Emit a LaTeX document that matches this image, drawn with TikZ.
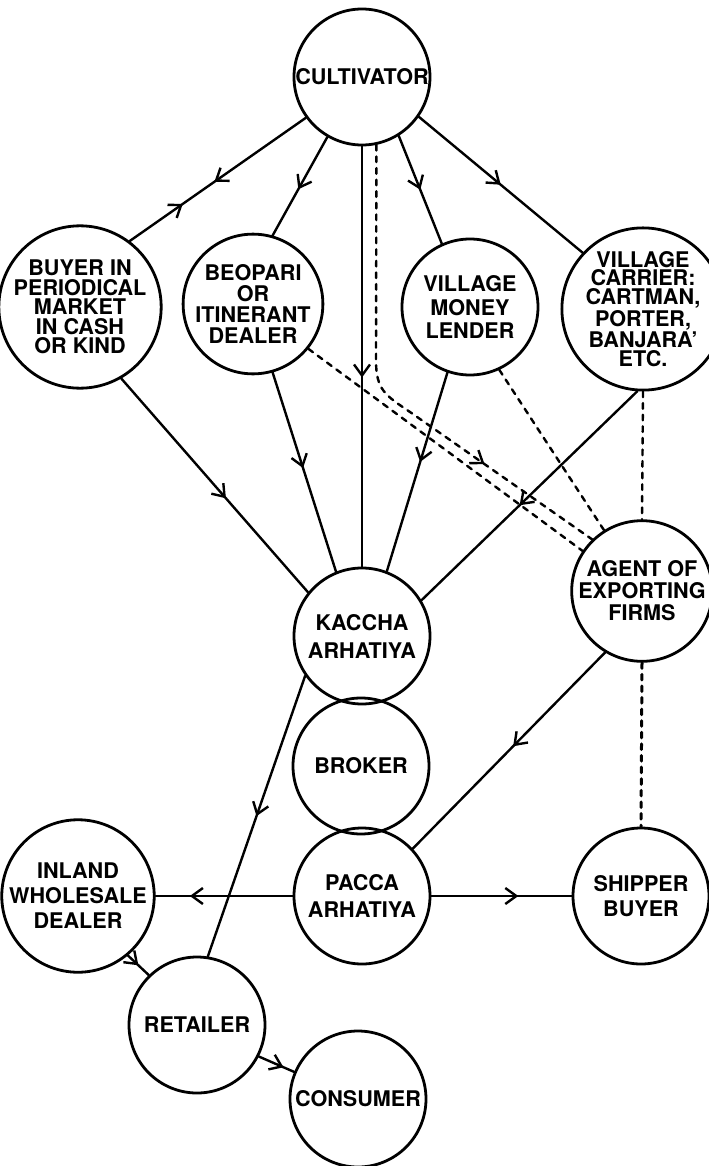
\documentclass[tikz,border=0pt]{standalone}
\usepackage{fontspec}
\setmainfont{TeX Gyre Heros}
\usetikzlibrary{arrows.meta,decorations.markings}
\tikzset{
  stn/.style={circle,draw,line width=1.4pt,minimum size=68pt,inner sep=0pt,align=center,
    font=\bfseries\fontsize{10.8}{#1}\selectfont},
  stn/.default=12pt,
  flow/.style={line width=1.2pt},
  trade/.style={line width=1.2pt,dash pattern=on 2.8pt off 3pt},
  midarr/.style={postaction={decorate},
    decoration={markings,mark=at position #1 with {\arrow{>}}}},
  twoway/.style={postaction={decorate},
    decoration={markings,mark=at position 0.52 with {\arrow{>}},
      mark=at position 0.70 with {\arrowreversed{>}}}},
}
\begin{document}
\begin{tikzpicture}[x=0.5pt,y=-0.5pt,>={Straight Barb[length=5.5pt,width=8pt]},
  line join=round,line cap=round]
\useasboundingbox (0,0) rectangle (708,1166);
% Stationen
\node[stn] (cult) at (362,77) {CULTIVATOR};
\node[stn=9.7pt] (buyer) at (80,307) {BUYER IN\\PERIODICAL\\MARKET\\IN CASH\\OR KIND};
\node[stn=10.6pt] (beop) at (253,304) {BEOPARI\\OR\\ITINERANT\\DEALER};
\node[stn=11.9pt] (lender) at (470,307) {VILLAGE\\MONEY\\LENDER};
\node[stn=9.3pt] (carrier) at (643,309) {VILLAGE\\CARRIER:\\CARTMAN,\\PORTER,\\BANJARA'\\ETC.};
\node[stn=14pt] (kaccha) at (362,636) {KACCHA\\ARHATIYA};
\node[stn=11pt] (agent) at (642,591) {AGENT OF\\EXPORTING\\FIRMS};
\node[stn] (broker) at (361,766) {BROKER};
\node[stn=13.3pt] (pacca) at (362,896) {PACCA\\ARHATIYA};
\node[stn=12.8pt] (shipper) at (641,896) {SHIPPER\\BUYER};
\node[stn=12.5pt] (inland) at (78,896) {INLAND\\WHOLESALE\\DEALER};
\node[stn] (retail) at (197,1025) {RETAILER};
\node[stn] (cons) at (358,1099) {CONSUMER};
% Warenfluss
\draw[flow,twoway] (cult.216) -- (buyer.53);
\draw[flow,midarr=0.53] (cult.240) -- (beop.74);
\draw[flow,midarr=0.5] (cult.302) -- (lender.114);
\draw[flow,midarr=0.5] (cult.325) -- (carrier.137);
\draw[flow,midarr=0.55] (cult.south) -- (kaccha.north);
\draw[flow,midarr=0.56] (buyer.300) -- (kaccha.141);
\draw[flow,midarr=0.48] (beop.286) -- (kaccha.112);
\draw[flow,midarr=0.45] (lender.251) -- (kaccha.69);
\draw[flow,midarr=0.545] (carrier.266) -- (kaccha.31);
\draw[flow,midarr=0.5] (kaccha.215) -- (retail.81);
\draw[flow,midarr=0.48] (agent.239) -- (pacca.43);
\draw[flow,midarr=0.75] (pacca.west) -- (inland.east);
\draw[flow,midarr=0.62] (pacca.east) -- (shipper.west);
\draw[flow,midarr=0.5] (inland.310) -- (retail.134);
\draw[flow,midarr=0.7] (retail.333) -- (cons.157);
% Export (gestrichelt)
\coordinate (kink) at (376,360);
\coordinate (kinkend) at (410,412);
\draw[trade,midarr=0.74] (cult.282) -- (kink) .. controls (376,390) and (385,395) .. (kinkend) -- (agent.134);
\draw[trade] (beop.321) -- (agent.146);
\draw[trade] (lender.295) -- (agent.122);
\draw[trade] (carrier.south) -- (agent.north);
\draw[trade,line width=1.5pt] (agent.south) -- (shipper.north);
\end{tikzpicture}
\end{document}
